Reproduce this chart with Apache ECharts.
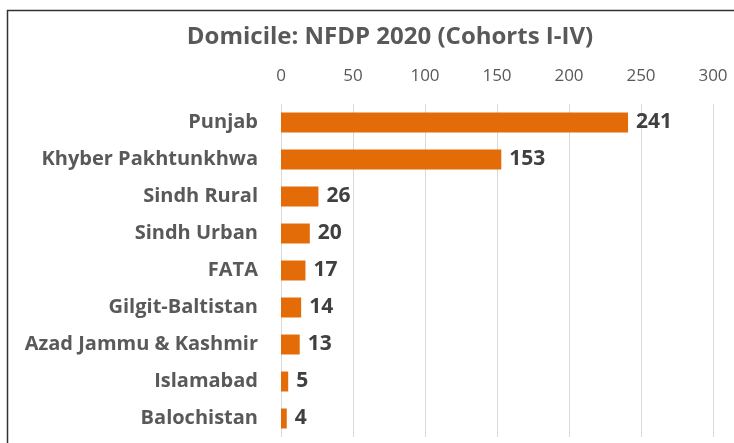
<!DOCTYPE html>
<html>
<head>
<meta charset="utf-8">
<script src="https://cdn.jsdelivr.net/npm/echarts@6/dist/echarts.min.js"></script>
<style>html,body{margin:0;padding:0;background:#fff;}#c{width:734px;height:443px;}</style>
</head>
<body>
<div id="c"></div>
<script>
const categories = ["Punjab","Khyber Pakhtunkhwa","Sindh Rural","Sindh Urban","FATA","Gilgit-Baltistan","Azad Jammu & Kashmir","Islamabad","Balochistan"];
const values = [241,153,26,20,17,14,13,5,4];
const xTicks = [0,50,100,150,200,250,300];
const titleText = "Domicile: NFDP 2020 (Cohorts I-IV)";

const chart = echarts.init(document.getElementById('c'), null, {renderer:'canvas'});
chart.setOption({
  backgroundColor:'#fff',
  animation:false,
  title:{text:titleText,left:385,top:20,textAlign:'center',
    textStyle:{fontFamily:'Open Sans',fontWeight:'bold',fontSize:24,color:'#595959'}},
  graphic:[{type:'rect',shape:{x:7.5,y:10.5,width:800,height:500},
    style:{fill:'none',stroke:'#333',lineWidth:1.5},silent:true}],
  grid:{left:281,right:21,top:104,bottom:6,containLabel:false},
  xAxis:{type:'value',position:'top',min:xTicks[0],max:xTicks[xTicks.length-1],interval:50,
    axisLine:{show:false},axisTick:{show:false},
    splitLine:{lineStyle:{color:'#D9D9D9',width:1}},
    axisLabel:{margin:19,fontFamily:'Open Sans',fontSize:17,color:'#595959',
      formatter:v=>xTicks.includes(v)?String(v):''}},
  yAxis:{type:'category',inverse:true,data:categories,
    axisLine:{show:false},axisTick:{show:false},
    axisLabel:{margin:23,fontFamily:'Open Sans',fontWeight:'bold',fontSize:20,color:'#595959'}},
  series:[{type:'bar',data:values,barWidth:'54%',
    itemStyle:{color:'#E36C09'},
    label:{show:true,position:'right',distance:8,fontFamily:'Open Sans',fontWeight:'bold',fontSize:21,color:'#404040'}}]
});
</script>
</body>
</html>
